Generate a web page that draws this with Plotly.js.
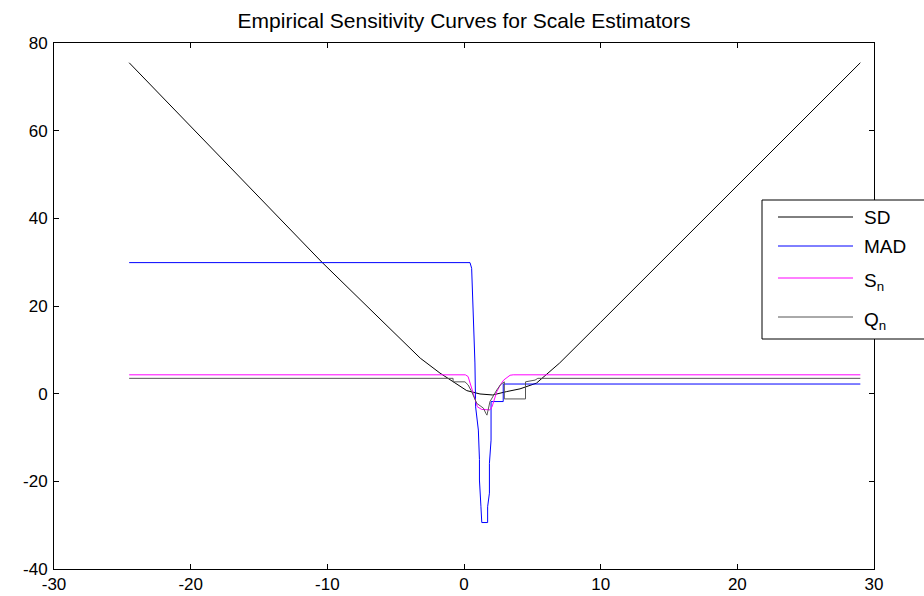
<!DOCTYPE html>
<html>
<head>
<meta charset="utf-8">
<script src="https://cdn.plot.ly/plotly-3.0.1.min.js"></script>
<style>
html,body{margin:0;padding:0;background:#fff;}
#chart{width:924px;height:596px;}
</style>
</head>
<body>
<div id="chart"></div>
<script>
// SD sensitivity curve
const sdX = [-24.5, -20, -15, -10.4, -6, -3.2, -1.76, -0.8, 0.2, 1.17, 2.1, 3.1, 4.1, 5.3, 7.0, 10, 15, 20, 25, 29];
const sdY = [75.5, 61.0, 44.9, 30.0, 16.6, 8.1, 4.7, 2.7, 0.7, -0.07, -0.3, 0.46, 1.1, 2.4, 7.0, 16.3, 31.9, 47.4, 63.0, 75.5];

// MAD sensitivity curve
const madX = [-24.5, 0.44, 0.56, 0.68, 0.8, 0.85, 1.05, 1.13, 1.13, 1.24, 1.3, 1.73, 1.73, 1.86, 1.86, 1.98, 1.98, 2.87, 2.87, 29];
const madY = [29.9, 29.9, 28.6, 17.6, 7.0, -3.0, -8.3, -15.0, -19.7, -25.8, -29.4, -29.4, -25.8, -22.7, -15.9, -10.6, -1.8, -1.8, 2.2, 2.2];

// Sn sensitivity curve
const snX = [-24.5, 0.1, 0.3, 0.45, 0.68, 0.8, 0.98, 1.3, 1.9, 2.05, 2.2, 2.4, 2.66, 2.9, 3.37, 3.6, 29];
const snY = [4.3, 4.3, 3.9, 2.4, 0.1, -1.4, -3.0, -3.6, -3.7, -3.0, -1.4, 0.46, 2.0, 3.1, 4.2, 4.3, 4.3];

// Qn sensitivity curve
const qnX = [-24.5, -0.8, -0.8, 0.07, 0.3, 0.56, 0.93, 1.42, 1.6, 1.68, 1.9, 2.15, 2.4, 2.66, 2.9, 2.95, 2.95, 4.5, 4.5, 5.2, 5.4, 29];
const qnY = [3.5, 3.5, 2.7, 2.7, 2.0, 0.46, -2.2, -3.3, -4.5, -4.9, -1.8, -0.3, 0.84, 2.0, 2.7, 2.7, -1.2, -1.2, 2.7, 3.1, 3.5, 3.5];

const seriesNames = ['SD', 'MAD', 'S<sub>n</sub>', 'Q<sub>n</sub>'];
const seriesColors = ['#000000', '#0000ff', '#ff00ff', '#555555'];
const xTicks = [-30, -20, -10, 0, 10, 20, 30];
const yTicks = [-40, -20, 0, 20, 40, 60, 80];

const xs = [sdX, madX, snX, qnX];
const ys = [sdY, madY, snY, qnY];

const traces = xs.map((x, i) => ({
  x: x, y: ys[i], type: 'scatter', mode: 'lines',
  name: seriesNames[i], showlegend: false,
  line: {color: seriesColors[i], width: 1}
}));

const FONT = 'Liberation Sans, Arial, Helvetica, sans-serif';

const axisCommon = {
  showgrid: false, zeroline: false,
  showline: true, linecolor: '#000', linewidth: 1, mirror: 'allticks',
  ticks: 'inside', ticklen: 5, tickcolor: '#000', tickwidth: 1,
  tickfont: {family: FONT, size: 17, color: '#000'}
};

// legend box (drawn in paper coordinates, plot area is 820x526 px)
const PW = 820, PH = 526;
const px = v => (v - 54) / PW;
const py = v => (569 - v) / PH;
const legendRowsY = [217, 246, 278, 317];
const shapes = [{
  type: 'rect', xref: 'paper', yref: 'paper',
  x0: px(762), x1: px(940), y0: py(339), y1: py(200),
  line: {color: '#000', width: 1}, fillcolor: '#fff', layer: 'above'
}];
const annotations = [];
seriesNames.forEach((n, i) => {
  shapes.push({
    type: 'line', xref: 'paper', yref: 'paper',
    x0: px(778), x1: px(853), y0: py(legendRowsY[i]), y1: py(legendRowsY[i]),
    line: {color: seriesColors[i], width: 1}, layer: 'above'
  });
  const hasSub = n.indexOf('<sub>') >= 0;
  annotations.push({
    xref: 'paper', yref: 'paper', x: px(862), y: py(legendRowsY[i] + (hasSub ? 4 : 0)),
    xanchor: 'left', yanchor: 'middle', showarrow: false, align: 'left',
    text: n, font: {family: FONT, size: 19, color: '#000'}
  });
});

const layout = {
  width: 924, height: 596,
  margin: {l: 54, r: 50, t: 43, b: 27},
  paper_bgcolor: '#fff', plot_bgcolor: '#fff',
  title: {
    text: 'Empirical Sensitivity Curves for Scale Estimators',
    font: {family: FONT, size: 21, color: '#000'},
    x: 0.5, xref: 'paper', xanchor: 'center', y: 0.966, yanchor: 'middle'
  },
  xaxis: Object.assign({}, axisCommon, {range: [-30, 30], tickvals: xTicks, ticktext: xTicks.map(String)}),
  yaxis: Object.assign({}, axisCommon, {range: [-40, 80], tickvals: yTicks, ticktext: yTicks.map(String), ticklabelstandoff: 2}),
  showlegend: false,
  shapes: shapes,
  annotations: annotations
};

Plotly.newPlot('chart', traces, layout, {staticPlot: true, displayModeBar: false});
</script>
</body>
</html>
